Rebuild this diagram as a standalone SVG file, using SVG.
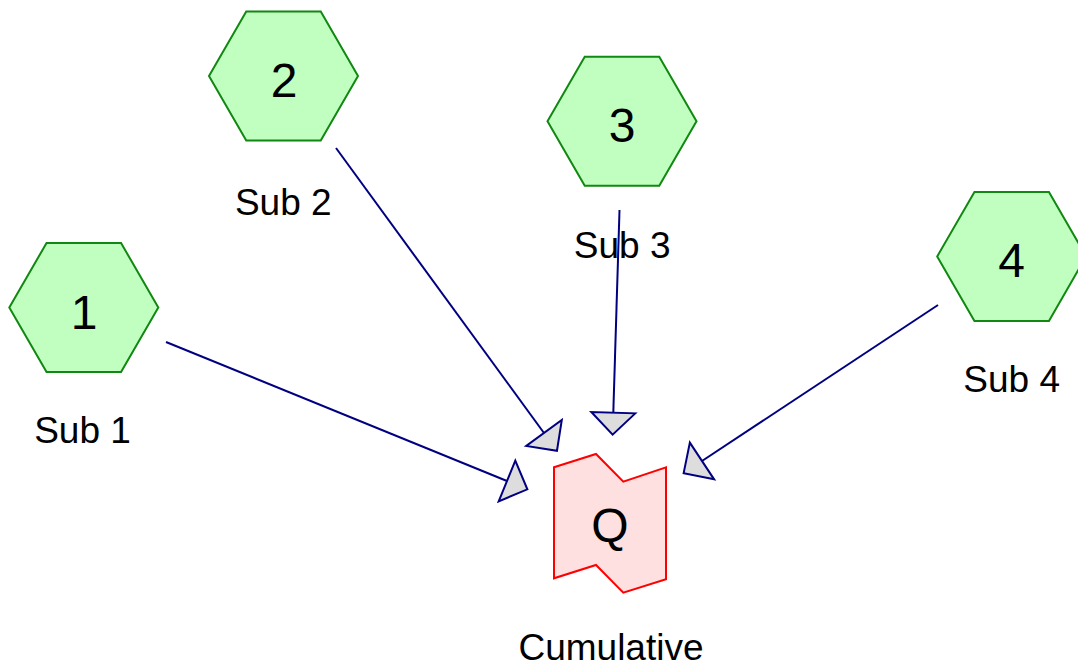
<svg xmlns="http://www.w3.org/2000/svg" width="1078" height="666" viewBox="0 0 1078 666">
  <style>
    .hex { fill: #c0ffc0; stroke: #118811; stroke-width: 2; }
    .sink { fill: #ffe0e0; stroke: #ff0000; stroke-width: 2; }
    .num { font-family: "Liberation Sans", Arial, sans-serif; font-size: 48px; fill: #000; text-anchor: middle; }
    .lbl { font-family: "Liberation Sans", Arial, sans-serif; font-size: 37px; fill: #000; text-anchor: middle; }
    .edge { fill: none; stroke: #000080; stroke-width: 2; }
  </style>
  <defs>
    <polygon id="hexShape" points="-74.5,0 -37.25,-64.5 37.25,-64.5 74.5,0 37.25,64.5 -37.25,64.5"/>
    <marker id="arrow" markerUnits="userSpaceOnUse" markerWidth="50" markerHeight="50" refX="0" refY="0" orient="auto" overflow="visible">
      <path d="M0,-22 L22,0 L0,22 Z" fill="#dddddd" stroke="#000080" stroke-width="2" stroke-linejoin="miter"/>
    </marker>
  </defs>

  <rect width="1078" height="666" fill="#ffffff"/>

  <!-- connectors -->
  <g id="connectors">
    <path class="edge" d="M166,342 L507,481" marker-end="url(#arrow)"/>
    <path class="edge" d="M336,148 L544,433" marker-end="url(#arrow)"/>
    <path class="edge" d="M619.5,210 L613.3,412.7" marker-end="url(#arrow)"/>
    <path class="edge" d="M938,305 L702,461" marker-end="url(#arrow)"/>
  </g>

  <g id="sub1">
    <use href="#hexShape" class="hex" transform="translate(83.8,307.5)"/>
    <text class="num" x="84" y="328.5">1</text>
    <text class="lbl" x="82.5" y="443.3">Sub 1</text>
  </g>

  <g id="sub2">
    <use href="#hexShape" class="hex" transform="translate(283.5,76)"/>
    <text class="num" x="284" y="96.7">2</text>
    <text class="lbl" x="283.3" y="215">Sub 2</text>
  </g>

  <g id="sub3">
    <use href="#hexShape" class="hex" transform="translate(622,121.3)"/>
    <text class="num" x="622" y="142">3</text>
    <text class="lbl" x="622.2" y="258.3">Sub 3</text>
  </g>

  <g id="sub4">
    <use href="#hexShape" class="hex" transform="translate(1011.7,256.4)"/>
    <text class="num" x="1011.7" y="277">4</text>
    <text class="lbl" x="1011.7" y="391.7">Sub 4</text>
  </g>

  <g id="cumulative">
    <polygon class="sink" points="554,467.3 596,454 623.3,481.7 666,467.3 666,579.3 623.3,592.7 596,565 554,578.3"/>
    <text class="num" x="610" y="542">Q</text>
    <text class="lbl" x="611" y="660">Cumulative</text>
  </g>
</svg>
